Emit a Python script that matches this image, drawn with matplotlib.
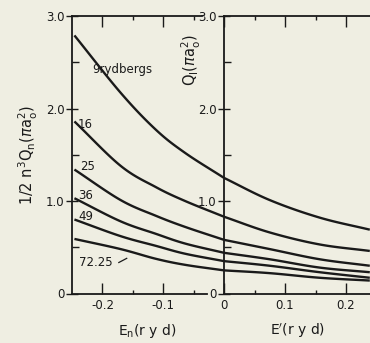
import numpy as np
import matplotlib
matplotlib.use("Agg")
import matplotlib.pyplot as plt
from matplotlib.ticker import FixedLocator

# ---- data ----
labels = ["9rydbergs", "16", "25", "36", "49", "72.25"]
x_left = [-0.246, -0.170, -0.112, -0.064, 0.0]
x_right = [0.0, 0.075, 0.157, 0.239]
y9_left = [2.79, 2.17, 1.77, 1.52, 1.25]
y9_right = [1.25, 1.01, 0.82, 0.69]
y16_left = [1.86, 1.38, 1.15, 1.00, 0.83]
y16_right = [0.83, 0.66, 0.53, 0.46]
y25_left = [1.34, 1.01, 0.84, 0.72, 0.58]
y25_right = [0.58, 0.48, 0.37, 0.30]
y36_left = [1.03, 0.78, 0.645, 0.54, 0.44]
y36_right = [0.44, 0.37, 0.28, 0.23]
y49_left = [0.80, 0.62, 0.515, 0.43, 0.35]
y49_right = [0.35, 0.30, 0.23, 0.17]
y72_left = [0.59, 0.48, 0.375, 0.31, 0.25]
y72_right = [0.25, 0.22, 0.17, 0.14]
left_series = [y9_left, y16_left, y25_left, y36_left, y49_left, y72_left]
right_series = [y9_right, y16_right, y25_right, y36_right, y49_right, y72_right]

BG = "#efeee2"
INK = "#1a1a1a"


def smooth(xs, ys, n=20):
    """Catmull-Rom rendering of a polyline through the data points."""
    xs = np.asarray(xs, float); ys = np.asarray(ys, float)
    P = np.column_stack([xs, ys])
    P = np.vstack([2 * P[0] - P[1], P, 2 * P[-1] - P[-2]])
    out = []
    for i in range(1, len(P) - 2):
        p0, p1, p2, p3 = P[i - 1], P[i], P[i + 1], P[i + 2]
        t = np.linspace(0, 1, n, endpoint=False)[:, None]
        pts = 0.5 * ((2 * p1) + (-p0 + p2) * t + (2 * p0 - 5 * p1 + 4 * p2 - p3) * t ** 2
                     + (-p0 + 3 * p1 - 3 * p2 + p3) * t ** 3)
        out.append(pts)
    out.append(P[-2][None, :])
    out = np.vstack(out)
    return out[:, 0], out[:, 1]


fig = plt.figure(figsize=(3.7, 3.43), dpi=100, facecolor=BG)
W, H = 370.0, 343.0
y0, y1 = 1 - 293.5 / H, 1 - 16 / H
axL = fig.add_axes([72 / W, y0, (224 - 72) / W, y1 - y0])
axR = fig.add_axes([224 / W, y0, 1 - 224 / W + 0.01, y1 - y0])

for ax in (axL, axR):
    ax.set_facecolor("none")
    ax.set_ylim(0, 3.0)
    for s in ax.spines.values():
        s.set_color(INK)
        s.set_linewidth(1.3)
    ax.yaxis.set_major_locator(FixedLocator([0, 1.0, 2.0, 3.0]))
    ax.yaxis.set_minor_locator(FixedLocator([0.5, 1.5, 2.5]))
    ax.tick_params(axis="y", which="major", direction="inout", length=9, width=1.0,
                   colors=INK, labelsize=8.5, pad=1)
    ax.tick_params(axis="y", which="minor", direction="in", length=5, width=1.0, colors=INK)
    ax.tick_params(axis="x", which="major", direction="in", length=8, width=1.0,
                   colors=INK, labelsize=8.5, top=True, pad=4)
    ax.tick_params(axis="x", which="minor", direction="in", length=3, width=1.0,
                   colors=INK, top=True)
    ax.set_yticklabels(["0", "1.0", "2.0", "3.0"])

axL.set_xlim(-0.25, 0.0)
axL.xaxis.set_major_locator(FixedLocator([-0.2, -0.1]))
axL.xaxis.set_minor_locator(FixedLocator([-0.15, -0.05]))
axL.set_xticklabels(["-0.2", "-0.1"])
axL.spines["right"].set_visible(False)
axL.spines["bottom"].set_bounds(-0.25, -0.028)
axL.spines["top"].set_bounds(-0.25, -0.036)

axR.set_xlim(0.0, (W - 224) / 610.0 + 0.01 * W / 610.0)
axR.xaxis.set_major_locator(FixedLocator([0.0, 0.1, 0.2]))
axR.xaxis.set_minor_locator(FixedLocator([0.05, 0.15]))
axR.set_xticklabels(["0", "0.1", "0.2"])
axR.spines["right"].set_visible(False)

for ys in left_series:
    sx, sy = smooth(x_left, ys)
    axL.plot(sx, sy, color=INK, lw=1.7, solid_capstyle="butt", clip_on=False)
for ys in right_series:
    sx, sy = smooth(x_right, ys)
    axR.plot(sx, sy, color=INK, lw=1.7, solid_capstyle="butt")

# curve labels
lab_pos = [(-0.217, 2.42), (-0.240, 1.83), (-0.237, 1.37), (-0.240, 1.06), (-0.240, 0.83), (-0.238, 0.34)]
for (lx, ly), t in zip(lab_pos, labels):
    axL.text(lx, ly, t, fontsize=8.5, color=INK, ha="left", va="center")
axL.plot([-0.173, -0.160], [0.335, 0.38], color=INK, lw=0.9)

# axis labels
axL.text(-0.126, -0.40, r"E$_\mathregular{n}$(r y d)", fontsize=10, color=INK,
         ha="center", va="center")
axR.text(0.121, -0.40, r"E$'$(r y d)", fontsize=10, color=INK, ha="center", va="center")
fig.text(28 / W, 1 - 155 / H, r"1/2 n$^\mathregular{3}$Q$_\mathregular{n}$($\pi$a$_\mathregular{o}^\mathregular{2}$)",
         rotation=90, fontsize=10.5, color=INK, ha="center", va="center")
fig.text(191 / W, 1 - 60 / H, r"Q$_\mathregular{l}$($\pi$a$_\mathregular{o}^\mathregular{2}$)",
         rotation=90, fontsize=10.5, color=INK, ha="center", va="center")

fig.savefig("out.png", dpi=100, facecolor=BG)
